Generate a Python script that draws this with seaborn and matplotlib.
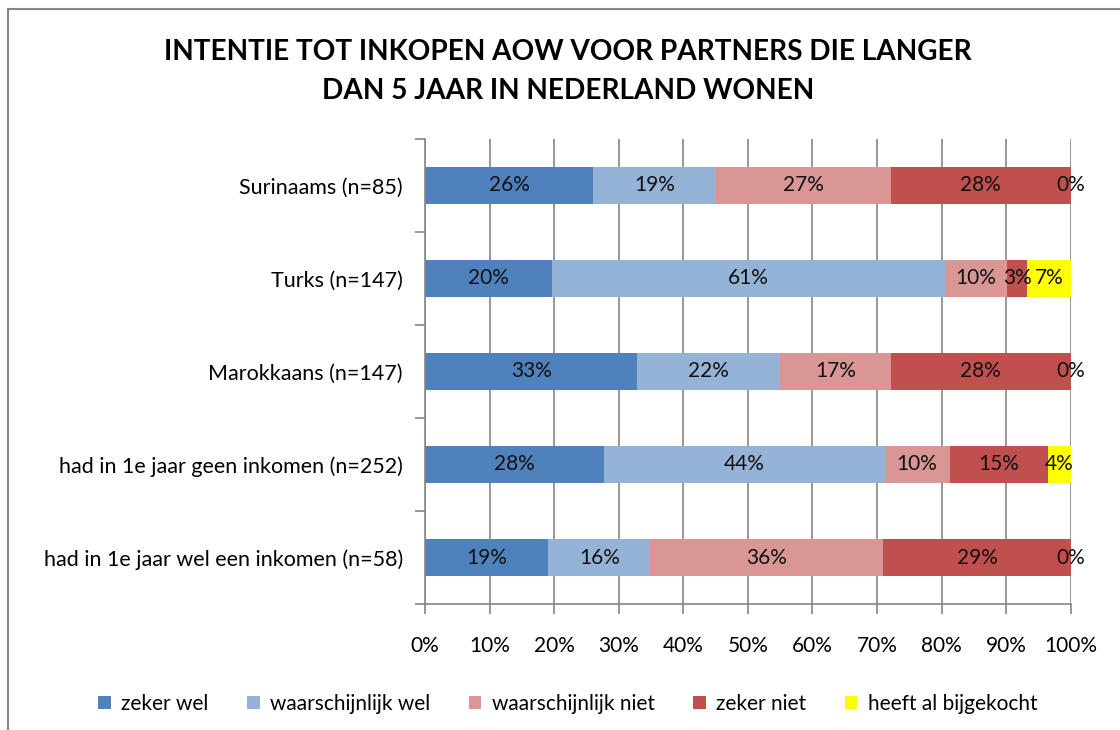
import numpy as np
import pandas as pd
import matplotlib
matplotlib.use("Agg")
import matplotlib.pyplot as plt
import seaborn as sns
from matplotlib.patches import Patch

categories = ["Surinaams (n=85)", "Turks (n=147)", "Marokkaans (n=147)",
              "had in 1e jaar geen inkomen (n=252)", "had in 1e jaar wel een inkomen (n=58)"]
series = ["zeker wel", "waarschijnlijk wel", "waarschijnlijk niet", "zeker niet", "heeft al bijgekocht"]
zeker_wel = [26.0, 19.7, 32.9, 27.8, 19.1]
waarschijnlijk_wel = [19.1, 60.8, 22.1, 43.6, 15.8]
waarschijnlijk_niet = [27.0, 9.7, 17.1, 10.1, 36.1]
zeker_niet = [27.9, 3.0, 27.9, 15.2, 29.0]
al_bijgekocht = [0.0, 6.8, 0.0, 3.6, 0.0]
colors = ["#4F81BD", "#95B3D7", "#D99694", "#C0504D", "#FFFF00"]

vals = [zeker_wel, waarschijnlijk_wel, waarschijnlijk_niet, zeker_niet, al_bijgekocht]

sns.set_theme(style="white")
plt.rcParams['font.family'] = ['Lato', 'DejaVu Sans']

fig = plt.figure(figsize=(11.2, 7.3), dpi=100)
ax = fig.add_axes([0.3795, 0.1726, 0.956 - 0.3795, 0.8096 - 0.1726])

arr = np.array(vals)
cum = np.cumsum(arr, axis=0)
tot = cum[-1]
cum_pct = cum / tot * 100
starts = np.vstack([np.zeros(len(categories)), cum_pct[:-1]])

for i in range(len(series) - 1, -1, -1):
    df = pd.DataFrame({"cat": categories, "x": cum_pct[i]})
    sns.barplot(data=df, y="cat", x="x", order=categories, orient="h",
                color=colors[i], saturation=1, width=0.39, ax=ax, linewidth=0)

for i in range(len(series)):
    for j in range(len(categories)):
        w = cum_pct[i][j] - starts[i][j]
        ax.text(starts[i][j] + w / 2, j, f"{round(vals[i][j]):.0f}%",
                ha="center", va="center", fontsize=15, color="#111111")

ax.set_xlim(0, 100)
ax.set_ylim(4.5, -0.5)
ax.set_xticks(np.arange(0, 101, 10))
ax.set_xticklabels([f"{v}%" for v in range(0, 101, 10)], fontsize=15, color="black")
ax.xaxis.grid(True, color="#868686", linewidth=1.2)
ax.set_axisbelow(True)
ax.set_xlabel("")
ax.set_ylabel("")
ax.set_yticks(range(len(categories)))
ax.set_yticklabels(categories, fontsize=15.5, color="black")
ax.set_yticks(np.arange(-0.5, len(categories), 1), minor=True)
ax.tick_params(axis="y", which="major", length=0, pad=16)
ax.tick_params(axis="y", which="minor", length=7, color="#868686", width=1.2, left=True)
ax.tick_params(axis="x", which="major", length=7, color="#868686", width=1.2, bottom=True, pad=16)
for s in ["top", "right"]:
    ax.spines[s].set_visible(False)
for s in ["left", "bottom"]:
    ax.spines[s].set_color("#868686")
    ax.spines[s].set_linewidth(1.2)

fig.text(0.507, 0.902, "INTENTIE TOT INKOPEN AOW VOOR PARTNERS DIE LANGER\nDAN 5 JAAR IN NEDERLAND WONEN",
         ha="center", va="center", fontsize=20.2, fontweight="bold", linespacing=1.65, color="black")

handles = [Patch(facecolor=c, edgecolor="none") for c in colors]
fig.legend(handles, series, loc="center", bbox_to_anchor=(0.507, 0.036), ncol=5,
           frameon=False, fontsize=15, handlelength=0.6, handleheight=0.6,
           columnspacing=1.85, handletextpad=0.5, labelcolor="black")

fig.add_artist(plt.Line2D([0.007, 0.007], [0, 0.987], transform=fig.transFigure, color="#868686", linewidth=1.5))
fig.add_artist(plt.Line2D([0.007, 1.0], [0.987, 0.987], transform=fig.transFigure, color="#868686", linewidth=1.5))

fig.savefig("out.png", dpi=100)
